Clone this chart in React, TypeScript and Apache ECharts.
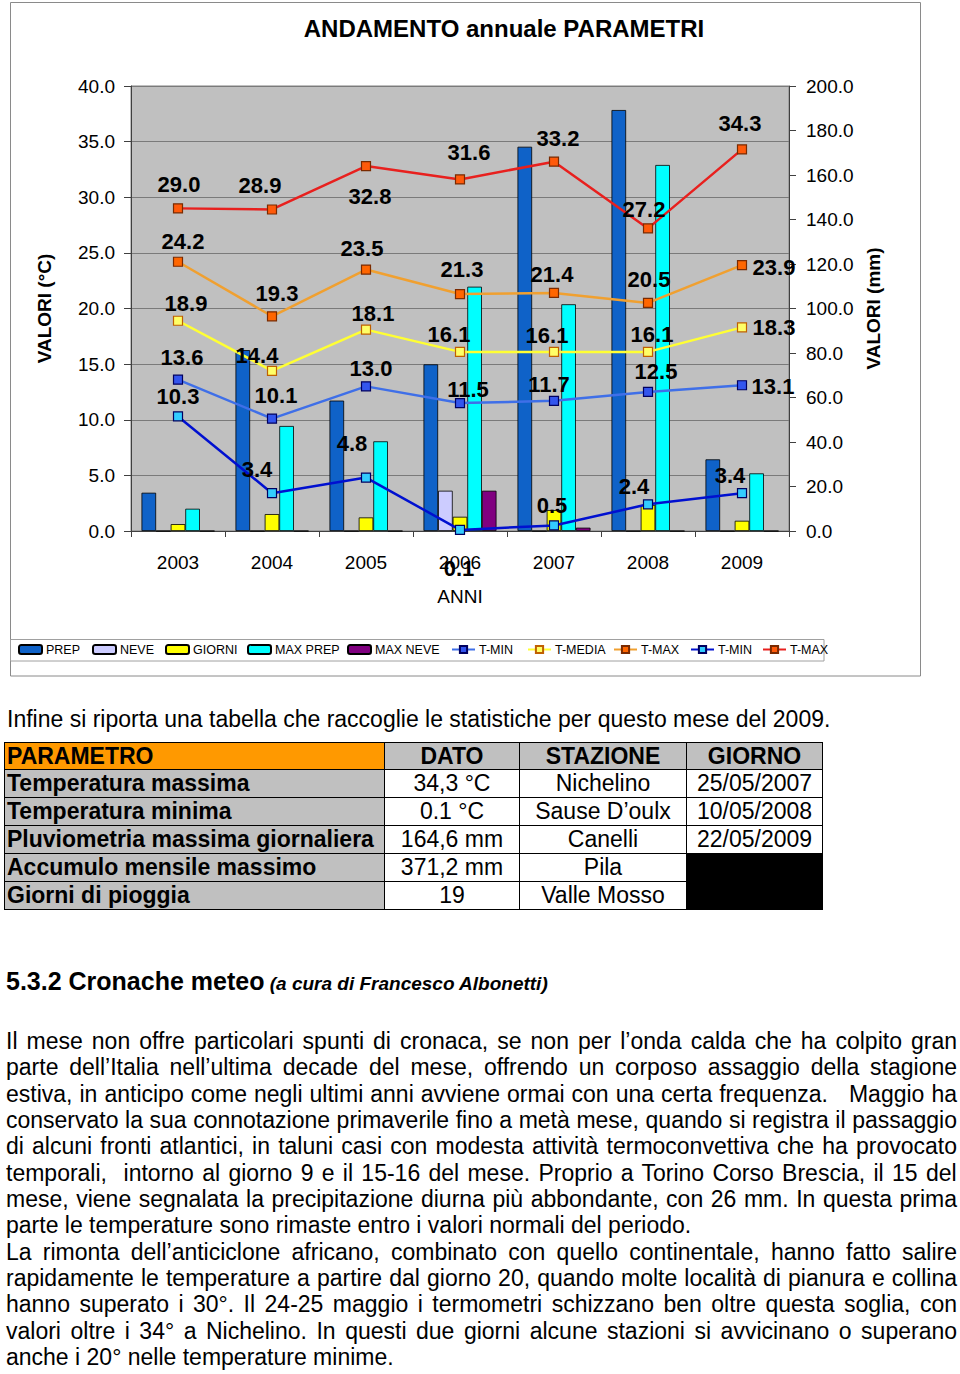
import React, { useEffect, useRef } from "react";
import * as echarts from "echarts";

const FONT = "'Liberation Sans', Arial, Helvetica, sans-serif";

// ---------- chart data ----------
const YEARS = ["2003", "2004", "2005", "2006", "2007", "2008", "2009"];
const PREP = [17.2, 81.3, 58.6, 74.9, 172.7, 189.2, 32.2];
const NEVE = [0, 0, 0, 18.1, 0, 0, 0];
const GIORNI = [3.1, 7.6, 6.1, 6.4, 9.4, 11.7, 4.6];
const MAX_PREP = [10.0, 47.2, 40.3, 109.8, 101.9, 164.5, 25.9];
const MAX_NEVE = [0, 0, 0, 18.1, 1.5, 0, 0];
const T_MIN = [13.6, 10.1, 13.0, 11.5, 11.7, 12.5, 13.1];
const T_MEDIA = [18.9, 14.4, 18.1, 16.1, 16.1, 16.1, 18.3];
const T_MAX = [24.2, 19.3, 23.5, 21.3, 21.4, 20.5, 23.9];
const T_MIN_ASS = [10.3, 3.4, 4.8, 0.1, 0.5, 2.4, 3.4];
const T_MAX_ASS = [29.0, 28.9, 32.8, 31.6, 33.2, 27.2, 34.3];

// ---------- label placement (offsets from marker centre) ----------
const OFF_T_MAX_ASS = [[1, -24], [-12, -24], [4, 30], [9, -27], [4, -23], [-4, -19], [-2, -26]];
const OFF_T_MAX = [[5, -20], [5, -23], [-4, -21], [2, -25], [-2, -18], [1, -23], [32, 2]];
const OFF_T_MEDIA = [[8, -17], [-15, -15], [7, -16], [-11, -17], [-7, -16], [4, -17], [32, 0]];
const OFF_T_MIN = [[4, -22], [4, -23], [5, -18], [8, -14], [-5, -16], [8, -20], [31, 1]];
const OFF_T_MIN_ASS = [[0, -20], [-15, -24], [-14, -34], [-1, 39], [-2, -20], [-14, -18], [-12, -18]];

const LEGEND_NAMES = ["PREP", "NEVE", "GIORNI", "MAX PREP", "MAX NEVE", "T-MIN", "T-MEDIA", "T-MAX", "T-MIN ass", "T-MAX ass"];
const LEGEND_X = [18, 92, 165, 247, 347, 451, 527, 613, 690, 762];

// ---------- table data ----------
const TABLE_HEAD = ["PARAMETRO", "DATO", "STAZIONE", "GIORNO"];
const TABLE_PARAM = ["Temperatura massima", "Temperatura minima", "Pluviometria massima giornaliera", "Accumulo mensile massimo", "Giorni di pioggia"];
const TABLE_DATO = ["34,3 °C", "0.1 °C", "164,6 mm", "371,2 mm", "19"];
const TABLE_STAZ = ["Nichelino", "Sause D’oulx", "Canelli", "Pila", "Valle Mosso"];
const TABLE_GIORNO = ["25/05/2007", "10/05/2008", "22/05/2009"];

const PARAGRAPH = [
  "Il mese non offre particolari spunti di cronaca, se non per l’onda calda che ha colpito gran",
  "parte dell’Italia nell’ultima decade del mese, offrendo un corposo assaggio della stagione",
  "estiva, in anticipo come negli ultimi anni avviene ormai con una certa frequenza.   Maggio ha",
  "conservato la sua connotazione primaverile fino a metà mese, quando si registra il passaggio",
  "di alcuni fronti atlantici, in taluni casi con modesta attività termoconvettiva che ha provocato",
  "temporali,  intorno al giorno 9 e il 15-16 del mese. Proprio a Torino Corso Brescia, il 15 del",
  "mese, viene segnalata la precipitazione diurna più abbondante, con 26 mm. In questa prima",
  "parte le temperature sono rimaste entro i valori normali del periodo.",
  "La rimonta dell’anticiclone africano, combinato con quello continentale, hanno fatto salire",
  "rapidamente le temperature a partire dal giorno 20, quando molte località di pianura e collina",
  "hanno superato i 30°. Il 24-25 maggio i termometri schizzano ben oltre questa soglia, con",
  "valori oltre i 34° a Nichelino. In questi due giorni alcune stazioni si avvicinano o superano",
  "anche i 20° nelle temperature minime.",
];
const PARAGRAPH_LAST = [7, 12];

let measureCtx: CanvasRenderingContext2D | null = null;
function measure(text: string, font: string) {
  if (!measureCtx) measureCtx = document.createElement("canvas").getContext("2d");
  measureCtx!.font = font;
  return measureCtx!.measureText(text).width;
}

function TextLine({ text, top, left = 6, width = 951, size = 23, justify = true }: any) {
  const font = `normal ${size}px ${FONT}`;
  const st: any = {};
  if (justify) {
    const nat = measure(text, font);
    const sp = (text.match(/ /g) || []).length;
    if (nat <= width) st.wordSpacing = (width - nat) / sp + "px";
    else {
      st.transform = `scaleX(${width / nat})`;
      st.transformOrigin = "0 0";
    }
  }
  return (
    <div style={{ position: "absolute", left, top, whiteSpace: "pre", font, lineHeight: "26px", color: "#000", ...st }}>
      {text}
    </div>
  );
}

function lineSeries(name: string, data: number[], offs: number[][], lineColor: string, fill: string, border: string) {
  return {
    name,
    type: "line",
    yAxisIndex: 0,
    symbol: "rect",
    symbolSize: 9,
    z: 5,
    lineStyle: { color: lineColor, width: 2.5 },
    itemStyle: { color: fill, borderColor: border, borderWidth: 1.2 },
    label: {
      show: true,
      position: "inside",
      formatter: (p: any) => Number(p.value).toFixed(1),
      fontFamily: FONT,
      fontSize: 22,
      fontWeight: "bold",
      color: "#000",
    },
    data: data.map((v, i) => ({ value: v, label: { offset: offs[i] } })),
  };
}

function barSeries(name: string, data: number[], color: string) {
  return {
    name,
    type: "bar",
    yAxisIndex: 1,
    barWidth: 14.6,
    barGap: "0%",
    itemStyle: { color, borderColor: "#000", borderWidth: 0.8 },
    data,
  };
}

function Chart() {
  const ref = useRef<HTMLDivElement>(null);
  useEffect(() => {
    const chart = echarts.init(ref.current!, null, { renderer: "svg" });
    const axisCol = "#404040";
    const option: any = {
      animation: false,
      backgroundColor: "#fff",
      textStyle: { fontFamily: FONT },
      grid: { left: 131, right: 171, top: 86, bottom: 159, show: true, backgroundColor: "#c0c0c0", borderColor: "#808080", borderWidth: 1 },
      graphic: [
        { type: "rect", shape: { x: 10.5, y: 2.5, width: 910, height: 673.5 }, style: { fill: "none", stroke: "#8a8a8a", lineWidth: 1 }, z: -1 },
        { type: "rect", shape: { x: 10.5, y: 639.5, width: 813.5, height: 21.5 }, style: { fill: "none", stroke: "#a0a0a0", lineWidth: 1 }, z: -1 },
        { type: "text", x: 504, y: 28, style: { text: "ANDAMENTO annuale PARAMETRI", font: `bold 24px ${FONT}`, fill: "#000", align: "center", verticalAlign: "middle" } },
      ],
      legend: LEGEND_NAMES.map((n, i) => ({
        left: LEGEND_X[i],
        top: 643,
        data: [n],
        selectedMode: false,
        itemWidth: 23,
        itemHeight: 9,
        itemGap: 0,
        padding: 0,
        formatter: (name: string) => name.replace(" ass", ""),
        textStyle: { fontFamily: FONT, fontSize: 12.5, color: "#000", padding: [0, 0, 0, -1] },
      })),
      xAxis: {
        type: "category",
        data: YEARS,
        boundaryGap: true,
        axisLine: { lineStyle: { color: axisCol, width: 1 } },
        axisTick: { show: true, length: 6, lineStyle: { color: axisCol } },
        axisLabel: { fontFamily: FONT, fontSize: 19, color: "#000", margin: 22 },
        name: "ANNI",
        nameLocation: "middle",
        nameGap: 56,
        nameTextStyle: { fontFamily: FONT, fontSize: 19, color: "#000" },
      },
      yAxis: [
        {
          type: "value",
          position: "left",
          min: 0,
          max: 40,
          interval: 5,
          axisLine: { show: true, lineStyle: { color: axisCol } },
          axisTick: { show: true, length: 7, lineStyle: { color: axisCol } },
          axisLabel: { formatter: (v: number) => v.toFixed(1), fontFamily: FONT, fontSize: 19, color: "#000", margin: 16 },
          splitLine: { show: true, lineStyle: { color: "#7a7a7a", width: 1 } },
          name: "VALORI (°C)",
          nameLocation: "middle",
          nameRotate: 90,
          nameGap: 77,
          nameTextStyle: { fontFamily: FONT, fontSize: 19, fontWeight: "bold", color: "#000" },
        },
        {
          type: "value",
          position: "right",
          min: 0,
          max: 200,
          interval: 20,
          axisLine: { show: true, lineStyle: { color: axisCol } },
          axisTick: { show: true, length: 7, lineStyle: { color: axisCol } },
          axisLabel: { formatter: (v: number) => v.toFixed(1), fontFamily: FONT, fontSize: 19, color: "#000", margin: 17 },
          splitLine: { show: false },
          name: "VALORI (mm)",
          nameLocation: "middle",
          nameRotate: 90,
          nameGap: 75,
          nameTextStyle: { fontFamily: FONT, fontSize: 19, fontWeight: "bold", color: "#000" },
        },
      ],
      series: [
        barSeries("PREP", PREP, "#0f62c8"),
        barSeries("NEVE", NEVE, "#ccccff"),
        barSeries("GIORNI", GIORNI, "#ffff00"),
        barSeries("MAX PREP", MAX_PREP, "#00ffff"),
        barSeries("MAX NEVE", MAX_NEVE, "#800080"),
        lineSeries("T-MIN", T_MIN, OFF_T_MIN, "#3f6fe8", "#3355ee", "#000060"),
        lineSeries("T-MEDIA", T_MEDIA, OFF_T_MEDIA, "#ffff33", "#ffff66", "#c06000"),
        lineSeries("T-MAX", T_MAX, OFF_T_MAX, "#f0a030", "#ff6600", "#7a2a00"),
        lineSeries("T-MIN ass", T_MIN_ASS, OFF_T_MIN_ASS, "#0010d0", "#33ccff", "#000060"),
        lineSeries("T-MAX ass", T_MAX_ASS, OFF_T_MAX_ASS, "#e8201e", "#ff5a0a", "#7a2a00"),
      ],
    };
    chart.setOption(option);
    return () => chart.dispose();
  }, []);
  return <div ref={ref} style={{ position: "absolute", left: 0, top: 0, width: 960, height: 690 }} />;
}

const COL_X = [4, 384, 519, 686, 822];
const ROW_Y = [742, 769, 797, 825, 853, 881, 909];

function Cell({ c, r, r2, bg, text, bold, align }: any) {
  const x0 = COL_X[c], x1 = COL_X[c + 1];
  const y0 = ROW_Y[r], y1 = ROW_Y[(r2 ?? r) + 1];
  return (
    <div
      style={{
        position: "absolute",
        left: x0,
        top: y0,
        width: x1 - x0 + 1,
        height: y1 - y0 + 1,
        boxSizing: "border-box",
        border: "1px solid #000",
        background: bg,
        font: `${bold ? "bold" : "normal"} 23px ${FONT}`,
        lineHeight: `${y1 - y0 - 1}px`,
        textAlign: align,
        paddingLeft: align === "left" ? 2 : 0,
        whiteSpace: "nowrap",
        color: "#000",
      }}
    >
      {text}
    </div>
  );
}

export default function App() {
  useEffect(() => {
    document.body.style.margin = "0";
  }, []);
  const cells: any[] = [];
  TABLE_HEAD.forEach((h, i) =>
    cells.push(<Cell key={"h" + i} c={i} r={0} bg={i === 0 ? "#ff9900" : "#c0c0c0"} text={h} bold align={i === 0 ? "left" : "center"} />)
  );
  TABLE_PARAM.forEach((p, r) => {
    cells.push(<Cell key={"p" + r} c={0} r={r + 1} bg="#c0c0c0" text={p} bold align="left" />);
    cells.push(<Cell key={"d" + r} c={1} r={r + 1} bg="#fff" text={TABLE_DATO[r]} align="center" />);
    cells.push(<Cell key={"s" + r} c={2} r={r + 1} bg="#fff" text={TABLE_STAZ[r]} align="center" />);
    if (r < TABLE_GIORNO.length) cells.push(<Cell key={"g" + r} c={3} r={r + 1} bg="#fff" text={TABLE_GIORNO[r]} align="center" />);
  });
  cells.push(<Cell key="black" c={3} r={4} r2={5} bg="#000" text="" align="center" />);

  return (
    <div style={{ position: "absolute", left: 0, top: 0, width: 960, height: 1374, background: "#fff", overflow: "hidden" }}>
      <Chart />
      <TextLine text="Infine si riporta una tabella che raccoglie le statistiche per questo mese del 2009." top={706} left={7} justify={false} />
      {cells}
      <div style={{ position: "absolute", left: 6, top: 967, whiteSpace: "pre", lineHeight: "30px", color: "#000" }}>
        <span style={{ font: `bold 25px ${FONT}` }}>5.3.2 Cronache meteo</span>
        <span style={{ font: `bold italic 19px ${FONT}` }}> (a cura di Francesco Albonetti)</span>
      </div>
      {PARAGRAPH.map((t, i) => (
        <TextLine key={i} text={t} top={1042 + i * 26.33 - 14} justify={!PARAGRAPH_LAST.includes(i)} />
      ))}
    </div>
  );
}
